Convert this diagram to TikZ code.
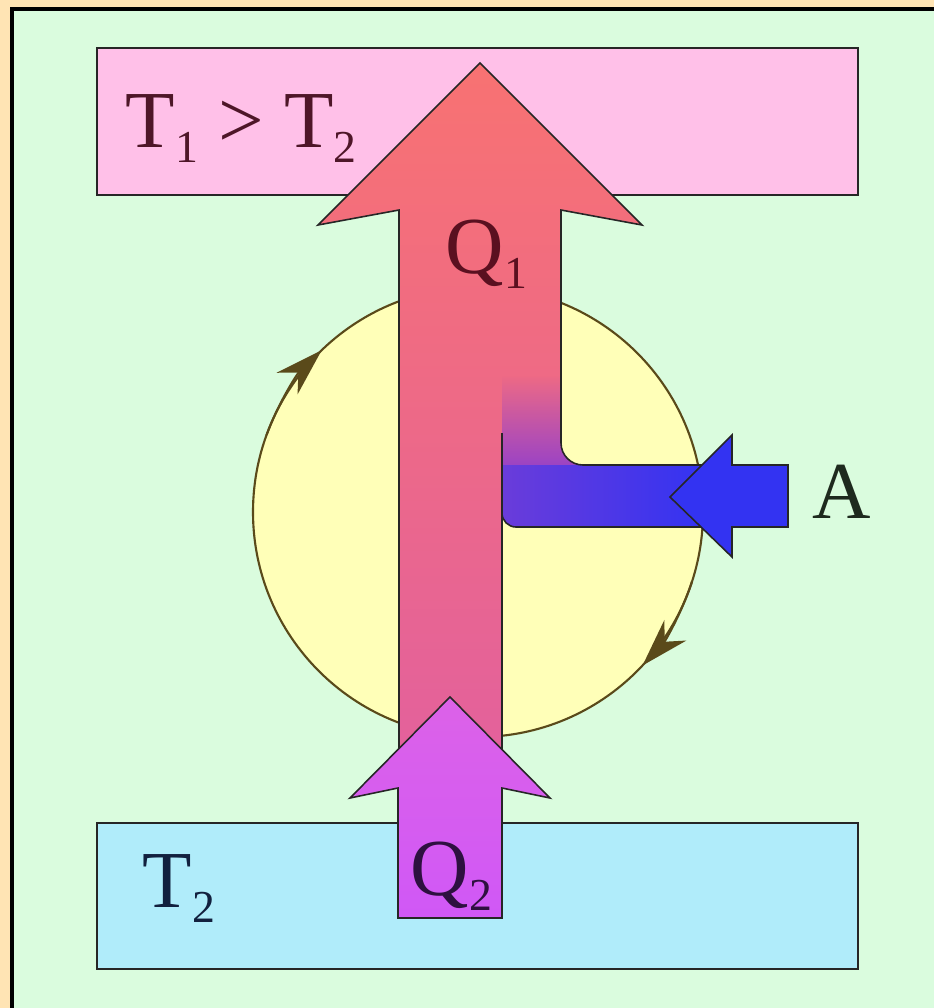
\documentclass[tikz,border=0pt]{standalone}
\usepackage{fontspec}
\setmainfont{Liberation Serif}
\usetikzlibrary{arrows.meta, positioning, calc, fadings}

\definecolor{frameorange}{HTML}{FFE4B4}
\definecolor{panelgreen}{HTML}{DAFCDE}
\definecolor{hotpink}{HTML}{FFC0E8}
\definecolor{coldblue}{HTML}{B0ECFA}
\definecolor{cycyellow}{HTML}{FFFFB8}
\definecolor{cycline}{HTML}{5A4A1A}
\definecolor{qred}{HTML}{F87272}
\definecolor{qpink}{HTML}{E2609E}
\definecolor{workpurple}{HTML}{9C44C4}
\definecolor{workblue}{HTML}{3333F2}
\definecolor{qtwotop}{HTML}{DC62E8}
\definecolor{qtwobot}{HTML}{D058F6}
\definecolor{hottext}{HTML}{4E1628}
\definecolor{coldtext}{HTML}{12203E}
\definecolor{qtext}{HTML}{5A1020}
\definecolor{qtwotext}{HTML}{2E1040}
\definecolor{worktext}{HTML}{1E2A1E}

\newcommand{\lowidx}[1]{\raisebox{-4.5pt}{\fontsize{13}{13}\selectfont #1}}

\begin{document}
\begin{tikzpicture}[x=0.01cm, y=-0.01cm,
  box/.style={draw=black!85, line width=0.5pt},
  blockarrow/.style={draw=black!85, line width=0.45pt, line join=miter},
  lbl/.style={font=\fontsize{23}{27}\selectfont, inner sep=0pt, anchor=base west},
  cycarrow/.style={draw=cycline, line width=0.6pt, -{Stealth[length=4.8mm, width=3mm]}}]
\useasboundingbox (0,0) rectangle (934,1008);
% frame and panel
\fill[frameorange] (0,0) rectangle (934,1008);
\fill[panelgreen] (12,9) rectangle (934,1008);
\draw[black, line width=1.2pt] (12,1008) -- (12,9) -- (934,9);
% hot reservoir
\draw[box, fill=hotpink] (97,48) rectangle (858,195);
\node[lbl, text=hottext] (hot) at (125,147) {T\lowidx{1} > T\lowidx{2}};
% cold reservoir
\draw[box, fill=coldblue] (97,823) rectangle (858,969);
\node[lbl, text=coldtext] (cold) at (142,907) {T\lowidx{2}};
% cycle
\draw[cycline, line width=0.6pt, fill=cycyellow] (478,512) circle[radius=225];
\draw[cycarrow] (478,512) ++(200:225) arc[start angle=200, end angle=226, radius=225];
\draw[cycarrow] (478,512) ++(18:225) arc[start angle=18, end angle=43, radius=225];
% heat Q1 joined by the work
\shade[blockarrow, top color=qred, bottom color=qpink,
  path picture={
    \shade[left color=workpurple, right color=workblue] (502,465) rectangle (705,527);
    \fill[workpurple, path fading=north] (502,375) rectangle (590,465);
  }]
  (399,790) -- (399,210) -- (318,225) -- (480,63) -- (642,225) -- (561,210)
  -- (561,443) arc[start angle=180, end angle=90, radius=22]
  -- (705,465) -- (705,527) -- (516,527)
  arc[start angle=90, end angle=180, radius=14] -- (502,790) -- cycle;
\draw[blockarrow] (502,433) -- (502,513);
\node[lbl, text=qtext] (qhot) at (445,273) {Q\lowidx{1}};
% work A
\draw[blockarrow, fill=workblue] (670,497) -- (732,435) -- (732,465) -- (788,465)
  -- (788,527) -- (732,527) -- (732,557) -- cycle;
\node[lbl, text=worktext] (work) at (812,518) {A};
% heat Q2
\shade[blockarrow, top color=qtwotop, bottom color=qtwobot]
  (398,918) -- (398,788) -- (350,798) -- (450,697) -- (550,798) -- (502,788)
  -- (502,918) -- cycle;
\node[lbl, text=qtwotext] (qcold) at (410,895) {Q\lowidx{2}};
\end{tikzpicture}
\end{document}
